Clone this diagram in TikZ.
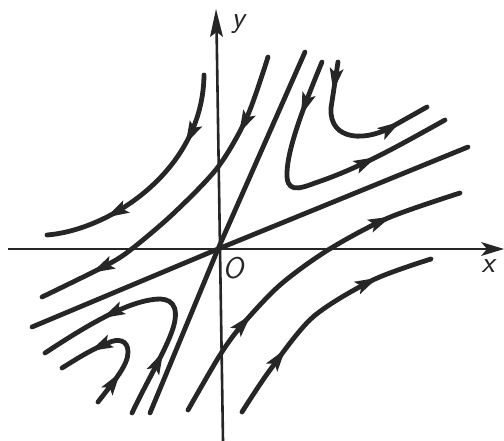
\documentclass[tikz,border=0pt]{standalone}
\usetikzlibrary{decorations.markings}
\tikzset{
  traj/.style={line width=4.8pt, line cap=round, draw=black!85},
  axisline/.style={line width=2.6pt, draw=black!85},
  midarrow/.style={postaction={decorate,decoration={markings,
     mark=at position #1 with {\fill[black!85] (6pt,0pt) -- (-17pt,7pt) -- (-12pt,0pt) -- (-17pt,-7pt) -- cycle;}}}},
  lbl/.style={font=\fontsize{30}{30}\selectfont\sffamily\itshape, text=black!85, inner sep=0pt},
  tipfill/.style={fill=black!85}
}
\begin{document}
\begin{tikzpicture}[x=1pt,y=-1pt]
\useasboundingbox (0,0) rectangle (504,441);
% axes
\coordinate (xs) at (8,249);
\coordinate (xe) at (500,249);
\coordinate (ys) at (223,441);
\coordinate (ye) at (216.5,25);
\coordinate (O) at (218,249);
\draw[axisline] (xs) -- (xe);
\draw[axisline] (ys) -- (ye);
\fill[tipfill] (504,249) -- (481,242) -- (487,249) -- (481,256) -- cycle;
\fill[tipfill] (216,9) -- (223,37) -- (216.7,32) -- (210,37) -- cycle;
\node[lbl] (ylab) at (238,24) {y};
\node[lbl] (xlab) at (488,266) {x};
\node[lbl] (olab) at (233,268) {O};
% separatrices
\draw[traj] (150,413) -- (O) -- (305,52);
\draw[traj] (32,327) -- (O) -- (468,147);
% upper left
\draw[traj,midarrow=0.27,midarrow=0.72] (204,75) .. controls (203,170) and (110,230) .. (47,235);
% second upper-left / lower-left
\draw[traj,midarrow=0.22,midarrow=0.82] plot[smooth] coordinates {(268,57) (247,117) (218,167) (175,212) (133,248) (107,265) (42,297)};
% right hook
\draw[traj,midarrow=0.17,midarrow=0.72] (322,62) .. controls (300,115) and (288,150) .. (287,172) .. controls (286,192) and (297,190) .. (315,183) .. controls (360,168) and (400,145) .. (445,120);
% upper hook
\draw[traj,midarrow=0.14,midarrow=0.78] (338,62) .. controls (334,85) .. (331,108) .. controls (329,142) and (368,142) .. (395,125) -- (427,107);
% lower-left big hook
\draw[traj,midarrow=0.24,midarrow=0.72] (132,413) .. controls (150,375) and (172,340) .. (175,320) .. controls (178,300) and (165,297) .. (150,300) .. controls (120,305) and (80,330) .. (45,353);
% lower-left small hook
\draw[traj,midarrow=0.22,midarrow=0.72] (98,402) .. controls (115,380) and (128,365) .. (128,352) .. controls (128,340) and (118,338) .. (108,343) .. controls (90,350) and (75,360) .. (62,368);
% lower right
\draw[traj,midarrow=0.3,midarrow=0.78] plot[smooth] coordinates {(188,410) (220,355) (242,325) (280,285) (328,250) (388,218) (460,193)};
\draw[traj,midarrow=0.28,midarrow=0.75] plot[smooth] coordinates {(242,412) (270,370) (313,317) (373,280) (431,259)};
\end{tikzpicture}
\end{document}
